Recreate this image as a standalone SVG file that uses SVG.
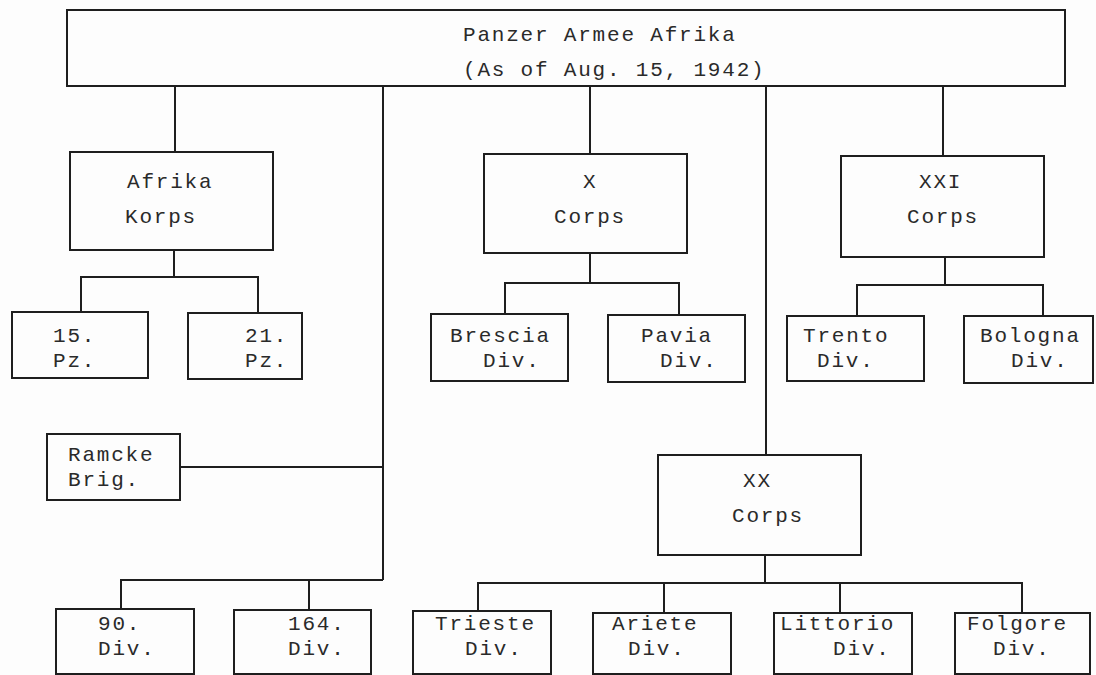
<svg xmlns="http://www.w3.org/2000/svg" width="1096" height="675" viewBox="0 0 1096 675">
<style>
.box{fill:none;stroke:#1e1e1e;stroke-width:2}
.ln{fill:none;stroke:#1e1e1e;stroke-width:2}
text{font-family:"Liberation Mono","DejaVu Sans Mono",monospace;font-size:21px;letter-spacing:1.8px;fill:#2a2a2a}
</style>
<rect x="0" y="0" width="1096" height="675" fill="#fdfdfd"/>
<g id="connectors">
<path class="ln" d="M175 86V152M383 86V580M590 86V154M766 86V455M943 86V156"/>
<path class="ln" d="M174 250V277M81 312V277H258V313"/>
<path class="ln" d="M590 253V283M505 314V283H679V315"/>
<path class="ln" d="M945 257V285M857 316V285H1043V316"/>
<path class="ln" d="M180 467H383"/>
<path class="ln" d="M121 609V580H383M309 580V610"/>
<path class="ln" d="M765 555V583M478 611V583H1022V613M664 583V613M840 583V613"/>
</g>
<g id="panzer-armee-afrika"><rect class="box" x="67" y="10" width="998" height="76"/>
<text x="463" y="41">Panzer Armee Afrika</text><text x="463" y="76">(As of Aug. 15, 1942)</text></g>
<g id="afrika-korps"><rect class="box" x="70" y="152" width="203" height="98"/>
<text x="127" y="188">Afrika</text><text x="125" y="223">Korps</text></g>
<g id="x-corps"><rect class="box" x="484" y="154" width="203" height="99"/>
<text x="583" y="188">X</text><text x="554" y="223">Corps</text></g>
<g id="xxi-corps"><rect class="box" x="841" y="156" width="203" height="101"/>
<text x="919" y="188">XXI</text><text x="907" y="223">Corps</text></g>
<g id="pz15"><rect class="box" x="12" y="312" width="136" height="66"/>
<text x="53" y="342">15.</text><text x="53" y="367">Pz.</text></g>
<g id="pz21"><rect class="box" x="188" y="313" width="114" height="66"/>
<text x="245" y="342">21.</text><text x="245" y="367">Pz.</text></g>
<g id="brescia"><rect class="box" x="431" y="314" width="137" height="67"/>
<text x="450" y="342">Brescia</text><text x="483" y="367">Div.</text></g>
<g id="pavia"><rect class="box" x="608" y="315" width="137" height="67"/>
<text x="641" y="342">Pavia</text><text x="660" y="367">Div.</text></g>
<g id="trento"><rect class="box" x="787" y="316" width="137" height="65"/>
<text x="803" y="342">Trento</text><text x="817" y="367">Div.</text></g>
<g id="bologna"><rect class="box" x="964" y="316" width="129" height="67"/>
<text x="980" y="342">Bologna</text><text x="1011" y="367">Div.</text></g>
<g id="ramcke"><rect class="box" x="47" y="434" width="133" height="66"/>
<text x="68" y="461">Ramcke</text><text x="68" y="486">Brig.</text></g>
<g id="xx-corps"><rect class="box" x="658" y="455" width="203" height="100"/>
<text x="743" y="487">XX</text><text x="732" y="522">Corps</text></g>
<g id="div90"><rect class="box" x="56" y="609" width="138" height="65"/>
<text x="98" y="630">90.</text><text x="98" y="655">Div.</text></g>
<g id="div164"><rect class="box" x="234" y="610" width="137" height="64"/>
<text x="288" y="630">164.</text><text x="288" y="655">Div.</text></g>
<g id="trieste"><rect class="box" x="413" y="611" width="138" height="63"/>
<text x="435" y="630">Trieste</text><text x="465" y="655">Div.</text></g>
<g id="ariete"><rect class="box" x="593" y="613" width="138" height="61"/>
<text x="612" y="630">Ariete</text><text x="628" y="655">Div.</text></g>
<g id="littorio"><rect class="box" x="774" y="613" width="138" height="61"/>
<text x="780" y="630">Littorio</text><text x="833" y="655">Div.</text></g>
<g id="folgore"><rect class="box" x="955" y="613" width="135" height="61"/>
<text x="967" y="630">Folgore</text><text x="993" y="655">Div.</text></g>
</svg>
